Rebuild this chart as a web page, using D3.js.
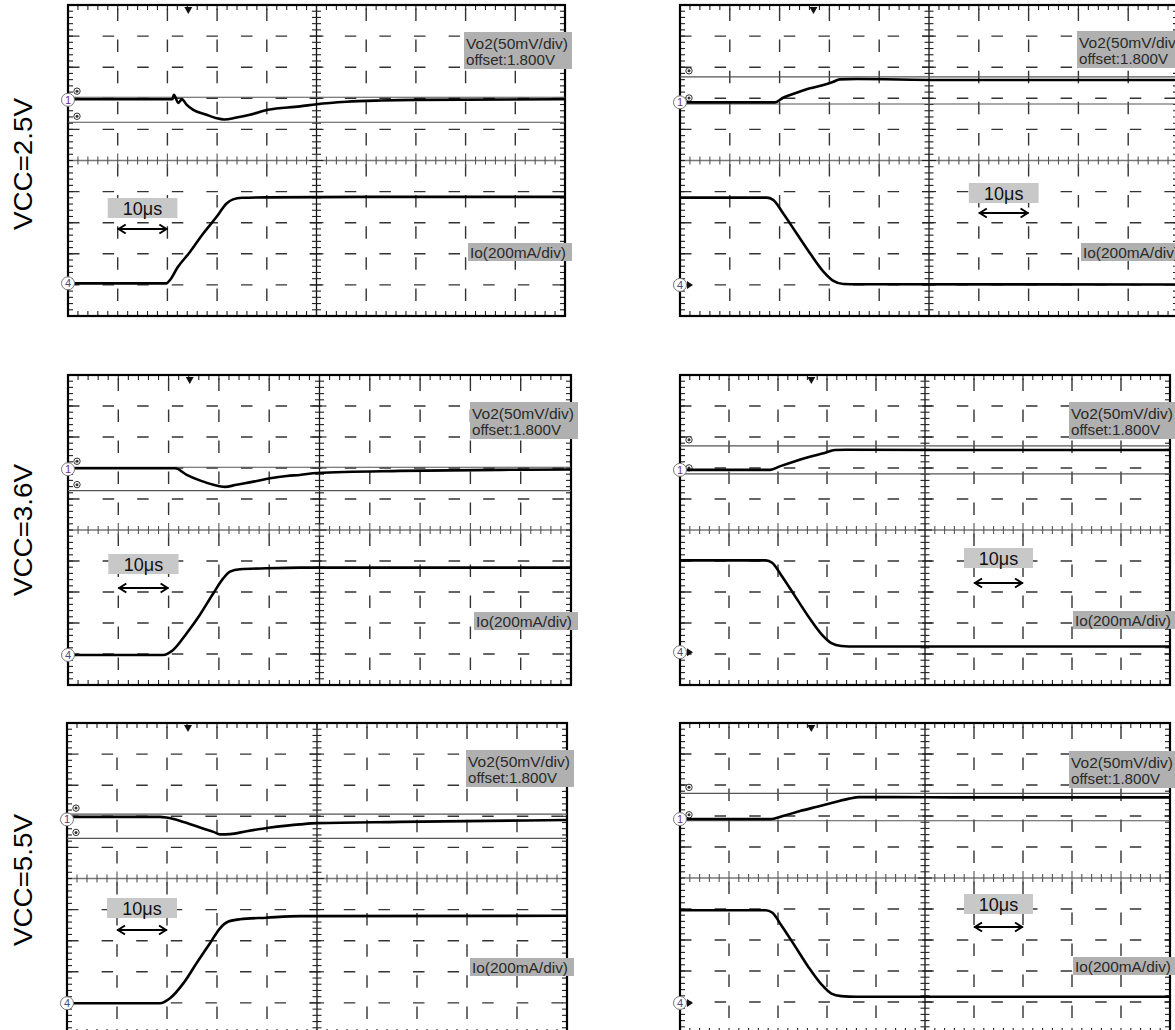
<!DOCTYPE html>
<html><head><meta charset="utf-8">
<script src="https://cdn.jsdelivr.net/npm/d3@7"></script>
<style>body{margin:0;background:#fff}svg{display:block}</style>
</head><body>
<svg id="c" width="1175" height="1030"></svg>
<script>
// ================= DATA =================
const vccLabels = ["VCC=2.5V", "VCC=3.6V", "VCC=5.5V"];
const timeDomain = [0, 100];            // μs across 10 divisions (10 μs/div)
const vo2Lines = ["Vo2(50mV/div)", "offset:1.800V"];
const ioText = "Io(200mA/div)";
const timeText = "10μs";
const vo2PerDiv = 50;                   // mV/div
const ioPerDiv = 200;                   // mA/div

// Vo2 deviation from 1.800 V (mV) vs time (μs): load step up (left column)
const vo2Up25 = [[0,1],[21,1],[21.3,8],[22.2,-5],[22.9,1],[23.9,-8],[25.2,-16],[27.9,-24],[29.9,-29.5],[31.4,-31.5],[33.9,-28.5],[36.6,-24],[40.2,-16],[46.7,-10.5],[50,-7],[56,-3],[63,-1],[70,0],[100,1]];
const vo2Up36 = [[0,1.5],[21.3,1.5],[23.6,-9],[26.2,-18],[28.9,-25],[31.2,-28.5],[33.5,-25],[36.9,-20],[40.2,-14.5],[43.5,-10.8],[46.1,-9.2],[49.5,-6],[66,-2.7],[86,-1],[100,-0.5]];
const vo2Up55 = [[0,4],[18.6,4],[19.9,3],[23.3,-4],[26.6,-13],[29.3,-20],[30.6,-24],[32.6,-23.6],[35.9,-19],[40.3,-13.5],[44,-10],[46.6,-8],[50,-6],[66.6,-4],[100,-1]];
// Io (mA) vs time (μs): load step up
const ioUp25 = [[0,0],[19.8,0],[20.6,25],[22,100],[24.5,200],[27.2,320],[29.9,428],[31.9,514],[33.2,540],[35,550],[40,553],[60,556],[100,556]];
const ioUp36 = [[0,0],[18.9,0],[20.9,32],[23.6,140],[26.2,258],[28.9,398],[30.9,495],[32.2,537],[34.2,553],[39.5,559],[46.1,563],[100,563]];
const ioUp55 = [[0,0],[18.6,0],[20.6,32],[23.3,129],[25.9,257],[28.6,386],[30.6,482],[32.3,525],[34.6,540],[39.9,550],[46.6,560],[100,562]];
// load step down (right column)
const vo2Down25 = [[0,0],[19.1,0],[20.7,7.4],[23.4,15.4],[26.1,22.5],[28.8,27.8],[30.8,33],[32.1,37],[35.5,37.5],[52.2,36],[100,36]];
const vo2Down36 = [[0,0],[18.4,0],[20.5,6],[23.5,14],[26.5,21],[29.5,27],[31.6,32],[34,32.5],[60,32],[100,32]];
const vo2Down55 = [[0,0],[18.4,0],[21,5],[24.5,13],[28,20],[31.5,27],[34.5,33],[36.5,35.5],[40,35.5],[60,35],[100,35]];
const ioDown25 = [[0,561],[17.4,561],[18.7,547],[20.7,461],[23.4,332],[26.1,204],[28.8,86],[30.8,26],[32.8,6],[36,4],[100,3]];
const ioDown36 = [[0,592],[17.5,592],[18.8,577],[20.8,490],[23.5,360],[26.2,230],[28.9,115],[30.9,58],[32.9,40],[36,36],[100,36]];
const ioDown55 = [[0,598],[17.5,598],[18.8,583],[20.8,495],[23.5,365],[26.2,232],[28.9,118],[30.9,60],[32.9,44],[36,40],[100,40]];
// cursor levels (mV): [upper, lower]
const cursorUp25 = [4.3, -36], cursorUp36 = [3.2, -34.5], cursorUp55 = [8.5, -30.5];
const cursorDown25 = [41, -2.7], cursorDown36 = [38.7, -6.5], cursorDown55 = [41.5, -2.7];
// trigger time (μs)
const trigTimes = [24.2, 24.2, 24.2, 26.8, 26.8, 26.8];

// ================= LAYOUT =================
const panels = [
  {x0:68, y0:5,   w:497, h:311, ch1:1.95, ch4:-3.95, vo:vo2Up25,   io:ioUp25,   cur:cursorUp25,   right:false, tBoxY:193, arrowY:224, voBoxY:27, ioBoxY:238},
  {x0:68, y0:375, w:503, h:310, ch1:1.96, ch4:-4.03, vo:vo2Up36,   io:ioUp36,   cur:cursorUp36,   right:false, tBoxY:179, arrowY:213, voBoxY:27, ioBoxY:237},
  {x0:67, y0:723, w:500, h:311, ch1:1.90, ch4:-4.01, vo:vo2Up55,   io:ioUp55,   cur:cursorUp55,   right:false, tBoxY:175, arrowY:207, voBoxY:27, ioBoxY:235},
  {x0:680,y0:5,   w:498, h:311, ch1:1.87, ch4:-4.0,  vo:vo2Down25, io:ioDown25, cur:cursorDown25, right:true,  tBoxY:178, arrowY:208, voBoxY:26, ioBoxY:238},
  {x0:680,y0:375, w:490, h:310, ch1:1.94, ch4:-3.94, vo:vo2Down36, io:ioDown36, cur:cursorDown36, right:true,  tBoxY:173, arrowY:208, voBoxY:27, ioBoxY:236},
  {x0:680,y0:723, w:490, h:310, ch1:1.90, ch4:-4.03, vo:vo2Down55, io:ioDown55, cur:cursorDown55, right:true,  tBoxY:171, arrowY:204, voBoxY:28, ioBoxY:234}
];
const vccY = [164, 530, 880];

const FONT = "'Liberation Sans', Arial, sans-serif";
const svg = d3.select("#c");

vccLabels.forEach((t, i) => {
  svg.append("text").attr("transform", `translate(32,${vccY[i]}) rotate(-90)`)
    .attr("text-anchor", "middle").attr("font-family", FONT).attr("font-size", 26)
    .attr("textLength", 132).attr("lengthAdjust", "spacingAndGlyphs")
    .attr("fill", "#000").text(t);
});

panels.forEach((p, pi) => {
  const g = svg.append("g");
  const x = d3.scaleLinear().domain(timeDomain).range([p.x0, p.x0 + p.w]);
  const yDiv = d3.scaleLinear().domain([-5, 5]).range([p.y0 + p.h, p.y0]);
  const yVo = d3.scaleLinear().domain([(-5 - p.ch1) * vo2PerDiv, (5 - p.ch1) * vo2PerDiv]).range([p.y0 + p.h, p.y0]);
  const yIo = d3.scaleLinear().domain([(-5 - p.ch4) * ioPerDiv, (5 - p.ch4) * ioPerDiv]).range([p.y0 + p.h, p.y0]);
  const divH = p.h / 10;

  // dashed grid
  for (let i = 1; i <= 9; i++) {
    if (i === 5) continue;
    const xv = x(i * 10);
    g.append("line").attr("x1", xv).attr("x2", xv).attr("y1", p.y0).attr("y2", p.y0 + p.h)
      .attr("stroke", "#333").attr("stroke-width", 1.4)
      .attr("stroke-dasharray", `12.5 ${divH - 12.5}`).attr("stroke-dashoffset", divH - 3.5);
  }
  for (let j = -4; j <= 4; j++) {
    if (j === 0) continue;
    const yh = yDiv(j);
    g.append("line").attr("x1", p.x0).attr("x2", p.x0 + p.w).attr("y1", yh).attr("y2", yh)
      .attr("stroke", "#333").attr("stroke-width", 1.4)
      .attr("stroke-dasharray", "11.5 23.1");
  }
  // center lines
  const xc = x(50), yc = yDiv(0);
  g.append("line").attr("x1", p.x0).attr("x2", p.x0 + p.w).attr("y1", yc).attr("y2", yc)
    .attr("stroke", "#777").attr("stroke-width", 1.5);
  g.append("line").attr("x1", xc).attr("x2", xc).attr("y1", p.y0).attr("y2", p.y0 + p.h)
    .attr("stroke", "#111").attr("stroke-width", 1.3);
  // ticks on center lines and borders
  const tT = d3.range(0, 100.01, 2);
  const tV = d3.range(-5, 5.01, 0.2);
  const tk = g.append("g").attr("stroke", "#222").attr("stroke-width", 1.1);
  tT.forEach(t => {
    const xx = x(t);
    const major = Math.abs(t % 10) < 1e-6;
    tk.append("line").attr("x1", xx).attr("x2", xx).attr("y1", yc - (major ? 7 : 4)).attr("y2", yc + (major ? 7 : 4)).attr("stroke", "#555");
    tk.append("line").attr("x1", xx).attr("x2", xx).attr("y1", p.y0).attr("y2", p.y0 + 5);
    tk.append("line").attr("x1", xx).attr("x2", xx).attr("y1", p.y0 + p.h - 5).attr("y2", p.y0 + p.h);
  });
  tV.forEach(v => {
    const yy = yDiv(v);
    const major = Math.abs(Math.round(v) - v) < 1e-6;
    tk.append("line").attr("x1", xc - (major ? 7 : 4.5)).attr("x2", xc + (major ? 7 : 4.5)).attr("y1", yy).attr("y2", yy);
    tk.append("line").attr("x1", p.x0).attr("x2", p.x0 + 5).attr("y1", yy).attr("y2", yy);
    tk.append("line").attr("x1", p.x0 + p.w - 5).attr("x2", p.x0 + p.w).attr("y1", yy).attr("y2", yy);
  });
  // border
  g.append("rect").attr("x", p.x0).attr("y", p.y0).attr("width", p.w).attr("height", p.h)
    .attr("fill", "none").attr("stroke", "#000").attr("stroke-width", 2.2);

  // cursor lines
  p.cur.forEach(c => {
    g.append("line").attr("x1", p.x0).attr("x2", p.x0 + p.w).attr("y1", yVo(c)).attr("y2", yVo(c))
      .attr("stroke", "#555").attr("stroke-width", 1.1);
    g.append("circle").attr("cx", p.x0 + 9).attr("cy", yVo(c) - 6).attr("r", 3.2)
      .attr("fill", "#fff").attr("stroke", "#333").attr("stroke-width", 1);
    g.append("circle").attr("cx", p.x0 + 9).attr("cy", yVo(c) - 6).attr("r", 1.5).attr("fill", "#333");
  });

  // traces
  const lineVo = d3.line().x(d => x(d[0])).y(d => yVo(d[1])).curve(d3.curveMonotoneX);
  const lineIo = d3.line().x(d => x(d[0])).y(d => yIo(d[1])).curve(d3.curveMonotoneX);
  g.append("path").attr("d", lineVo(p.vo)).attr("fill", "none").attr("stroke", "#000")
    .attr("stroke-width", 2.6).attr("stroke-linejoin", "round");
  g.append("path").attr("d", lineIo(p.io)).attr("fill", "none").attr("stroke", "#000")
    .attr("stroke-width", 2.6).attr("stroke-linejoin", "round");

  // trigger marker
  const xt = x(trigTimes[pi]);
  g.append("path").attr("d", `M${xt - 4},${p.y0 + 2} L${xt + 4},${p.y0 + 2} L${xt},${p.y0 + 9} Z`).attr("fill", "#111");

  // channel markers
  const mk = (yy, label, col) => {
    g.append("circle").attr("cx", p.x0).attr("cy", yy).attr("r", 6.5).attr("fill", "#fff")
      .attr("stroke", "#777").attr("stroke-width", 1);
    g.append("text").attr("x", p.x0).attr("y", yy + 4).attr("text-anchor", "middle")
      .attr("font-family", FONT).attr("font-size", 11).attr("fill", col).text(label);
  };
  mk(yVo(0), "1", "#6a2c8a");
  mk(yIo(0), "4", "#3d4f86");
  if (p.right) {
    const y4 = yIo(0);
    g.append("path").attr("d", `M${p.x0 + 7},${y4 - 4} L${p.x0 + 13},${y4} L${p.x0 + 7},${y4 + 4} Z`).attr("fill", "#111");
  }

  // Vo2 label box
  const bx = p.x0 + p.w - 101;
  g.append("rect").attr("x", bx).attr("y", p.y0 + p.voBoxY).attr("width", 108).attr("height", 37).attr("fill", "#b0b0b0");
  g.append("text").attr("x", bx + 2).attr("y", p.y0 + p.voBoxY + 17).attr("font-family", FONT)
    .attr("font-size", 15.5).attr("textLength", 102).attr("lengthAdjust", "spacingAndGlyphs")
    .attr("fill", "#2a2a2a").text(vo2Lines[0]);
  g.append("text").attr("x", bx + 2).attr("y", p.y0 + p.voBoxY + 33).attr("font-family", FONT)
    .attr("font-size", 15.5).attr("textLength", 89).attr("lengthAdjust", "spacingAndGlyphs")
    .attr("fill", "#2a2a2a").text(vo2Lines[1]);
  // Io label box
  const ix = p.x0 + p.w - 97;
  g.append("rect").attr("x", ix).attr("y", p.y0 + p.ioBoxY).attr("width", 104).attr("height", 18).attr("fill", "#b0b0b0");
  g.append("text").attr("x", ix + 2).attr("y", p.y0 + p.ioBoxY + 15).attr("font-family", FONT)
    .attr("font-size", 15.5).attr("textLength", 96).attr("lengthAdjust", "spacingAndGlyphs")
    .attr("fill", "#2a2a2a").text(ioText);

  // 10 μs box + arrow
  const a1 = x(p.right ? 60 : 10), a2 = x(p.right ? 70 : 20);
  g.append("rect").attr("x", a1 - 10).attr("y", p.y0 + p.tBoxY).attr("width", a2 - a1 + 20).attr("height", 20).attr("fill", "#c8c8c8");
  g.append("text").attr("x", (a1 + a2) / 2).attr("y", p.y0 + p.tBoxY + 16.5).attr("text-anchor", "middle")
    .attr("font-family", FONT).attr("font-size", 18).attr("fill", "#111").text(timeText);
  const ay = p.y0 + p.arrowY;
  g.append("path").attr("d", `M${a1},${ay} L${a2},${ay} M${a1 + 8},${ay - 4.5} L${a1 + 1},${ay} L${a1 + 8},${ay + 4.5} M${a2 - 8},${ay - 4.5} L${a2 - 1},${ay} L${a2 - 8},${ay + 4.5}`)
    .attr("fill", "none").attr("stroke", "#000").attr("stroke-width", 2);
});
</script>
</body></html>
